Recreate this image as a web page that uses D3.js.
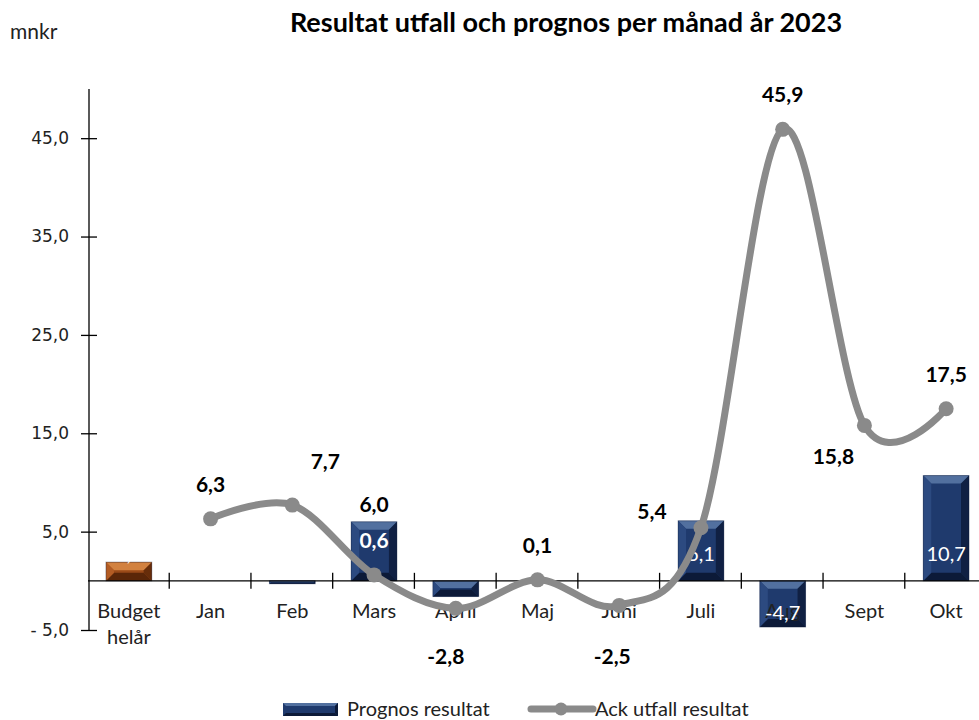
<!DOCTYPE html>
<html>
<head>
<meta charset="utf-8">
<script src="https://cdn.jsdelivr.net/npm/d3@7"></script>
<style>
  body { margin: 0; background: #fff; }
  svg { display: block; }
</style>
</head>
<body>
<div class="chart"></div>
<script>
// RESULTAT UTFALL OCH PROGNOS - bars + smoothed line
const categories = ['Budget helår', 'Jan', 'Feb', 'Mars', 'April', 'Maj', 'Juni', 'Juli', 'Aug', 'Sept', 'Okt'];
const prognos = [1.9, null, -0.3, 6.0, -1.6, null, null, 6.1, -4.7, null, 10.7];
const ackUtfall = [null, 6.3, 7.7, 0.6, -2.8, 0.1, -2.5, 5.4, 45.9, 15.8, 17.5];
const yTicks = [-5, 5, 15, 25, 35, 45];

const width = 979;
const height = 720;

const sv = d3.formatLocale({ decimal: ',', thousands: ' ', grouping: [3], currency: ['', ' kr'], minus: '-' });
const fmt = sv.format('.1f');

const svg = d3.select('.chart')
  .append('svg')
    .attr('width', width)
    .attr('height', height);

const x = d3.scaleBand()
  .domain(categories)
  .range([88, 987])
  .paddingInner(0.44)
  .paddingOuter(0.22);

const y = d3.scaleLinear()
  .domain([-5, 50])
  .range([630, 89]);

// title + unit
svg.append('text')
  .attr('x', 566).attr('y', 32)
  .attr('text-anchor', 'middle')
  .style('font', 'bold 27px Lato')
  .text('Resultat utfall och prognos per månad år 2023');

svg.append('text')
  .attr('x', 10).attr('y', 39)
  .style('font', '21px Lato')
  .style('fill', '#222')
  .text('mnkr');

// y axis
const yAxis = d3.axisLeft(y)
  .tickValues(yTicks)
  .tickSizeInner(8)
  .tickSizeOuter(0)
  .tickFormat(d => fmt(d).replace('-', '- '));

const gy = svg.append('g')
  .attr('transform', 'translate(89,0)')
  .call(yAxis);
gy.select('.domain').attr('d', `M0,${y(50)}V${y(-5)}`).attr('stroke', '#000').attr('stroke-width', 1.3);
gy.selectAll('.tick line').attr('x1', 8).attr('x2', -8).attr('stroke-width', 1.3);
gy.selectAll('.tick text')
  .attr('x', -20)
  .style('font', '17px "DejaVu Sans"')
  .style('fill', '#222');

// bevelled bars
const bevelColors = {
  navy: { main: '#1f3a6d', top: '#52709f', side: '#2c4a80', bottom: '#0c1a38' },
  brown: { main: '#9a4a18', top: '#d2813f', side: '#b35c24', bottom: '#5a2608' }
};

const barData = categories.map((c, i) => ({ cat: c, v: prognos[i], i }))
  .filter(d => d.v !== null);

const bars = svg.append('g');
barData.forEach(d => {
  const col = d.i === 0 ? bevelColors.brown : bevelColors.navy;
  const x0 = x(d.cat), w = x.bandwidth();
  const y0 = Math.min(y(d.v), y(0)), h = Math.abs(y(d.v) - y(0));
  const b = Math.min(8, h / 2.2, w / 2.2);
  const g = bars.append('g');
  g.append('rect').attr('x', x0).attr('y', y0).attr('width', w).attr('height', h).attr('fill', col.main);
  const x1 = x0 + w, y1 = y0 + h;
  g.append('polygon').attr('fill', col.top)
    .attr('points', `${x0},${y0} ${x1},${y0} ${x1 - b},${y0 + b} ${x0 + b},${y0 + b}`);
  g.append('polygon').attr('fill', col.bottom)
    .attr('points', `${x0},${y1} ${x1},${y1} ${x1 - b},${y1 - b} ${x0 + b},${y1 - b}`);
  g.append('polygon').attr('fill', col.side)
    .attr('points', `${x0},${y0} ${x0 + b},${y0 + b} ${x0 + b},${y1 - b} ${x0},${y1}`);
  g.append('polygon').attr('fill', col.bottom).attr('opacity', 0.8)
    .attr('points', `${x1},${y0} ${x1 - b},${y0 + b} ${x1 - b},${y1 - b} ${x1},${y1}`);
  g.append('rect').attr('x', x0).attr('y', y0).attr('width', w).attr('height', h)
    .attr('fill', 'none').attr('stroke', '#0a1530').attr('stroke-opacity', 0.35);
});

// x axis with ticks between categories
const step = x.step();
svg.append('line')
  .attr('x1', 88).attr('x2', width)
  .attr('y1', y(0)).attr('y2', y(0))
  .attr('stroke', '#000').attr('stroke-width', 1.3);
svg.append('g')
  .selectAll('line')
  .data(categories.slice(1))
  .join('line')
    .attr('x1', d => x(d) - step * 0.22 - 0.5)
    .attr('x2', d => x(d) - step * 0.22 - 0.5)
    .attr('y1', y(0) - 8).attr('y2', y(0) + 8)
    .attr('stroke', '#000').attr('stroke-width', 1.3);

const catLabels = svg.append('g')
  .selectAll('text')
  .data(categories)
  .join('text')
    .attr('x', d => x(d) + x.bandwidth() / 2)
    .attr('y', 618)
    .attr('text-anchor', 'middle')
    .style('font', '20px Lato')
    .style('fill', '#222');
catLabels.each(function(d) {
  const parts = d.split(' ');
  d3.select(this).selectAll('tspan')
    .data(parts)
    .join('tspan')
      .attr('x', x(d) + x.bandwidth() / 2)
      .attr('dy', (p, i) => i === 0 ? 0 : 26)
      .text(p => p);
});

// bar labels (small negative bars have their white label outside the bar, so it is not seen)
const barLabelStyle = {
  Mars: { dy: -10, color: '#000', weight: 'bold' }
};
svg.append('g')
  .selectAll('text')
  .data(barData.filter(d => d.v >= 0 || d.v < -3))
  .join('text')
    .attr('x', d => x(d.cat) + x.bandwidth() / 2)
    .attr('y', d => {
      if (barLabelStyle[d.cat]) return y(d.v) + barLabelStyle[d.cat].dy;
      return d.v >= 0 ? y(0) - 20 : y(d.v) - 7;
    })
    .attr('text-anchor', 'middle')
    .style('font-family', 'Lato')
    .style('font-size', d => barLabelStyle[d.cat] ? '21px' : '20px')
    .style('font-weight', d => barLabelStyle[d.cat] ? barLabelStyle[d.cat].weight : 'normal')
    .style('fill', d => barLabelStyle[d.cat] ? barLabelStyle[d.cat].color : '#fff')
    .text(d => fmt(d.v));

// smoothed line
const lineData = categories.map((c, i) => ({ cat: c, v: ackUtfall[i] }))
  .filter(d => d.v !== null);
const cx = d => x(d.cat) + x.bandwidth() / 2;

const line = d3.line()
  .x(cx)
  .y(d => y(d.v))
  .curve(d3.curveCardinal.tension(0));

svg.append('path')
  .datum(lineData)
  .attr('d', line)
  .attr('fill', 'none')
  .attr('stroke', '#8a8a8a')
  .attr('stroke-width', 7)
  .attr('stroke-linecap', 'round');

svg.append('g')
  .selectAll('circle')
  .data(lineData)
  .join('circle')
    .attr('cx', cx)
    .attr('cy', d => y(d.v))
    .attr('r', 7.5)
    .attr('fill', '#8a8a8a');

// line labels, manually nudged like in the original
const lineLabelOffset = {
  Feb: [33, -43], Juli: [-49, -16], Sept: [-31, 32], April: [-10, 49], Juni: [-7, 52]
};
const lineLabelColor = { Mars: '#fff' };
svg.append('g')
  .selectAll('text')
  .data(lineData)
  .join('text')
    .attr('x', d => cx(d) + (lineLabelOffset[d.cat] || [0, -34])[0])
    .attr('y', d => y(d.v) + (lineLabelOffset[d.cat] || [0, -34])[1] + 7)
    .attr('text-anchor', 'middle')
    .style('font', 'bold 21px Lato')
    .style('fill', d => lineLabelColor[d.cat] || '#000')
    .text(d => fmt(d.v));

// legend
const legend = svg.append('g');
const lx = 283, ly = 703, lw = 55, lh = 13, lb = 3;
legend.append('rect').attr('x', lx).attr('y', ly).attr('width', lw).attr('height', lh).attr('fill', bevelColors.navy.main);
legend.append('polygon').attr('fill', bevelColors.navy.top)
  .attr('points', `${lx},${ly} ${lx + lw},${ly} ${lx + lw - lb},${ly + lb} ${lx + lb},${ly + lb}`);
legend.append('polygon').attr('fill', bevelColors.navy.bottom)
  .attr('points', `${lx},${ly + lh} ${lx + lw},${ly + lh} ${lx + lw - lb},${ly + lh - lb} ${lx + lb},${ly + lh - lb}`);
legend.append('polygon').attr('fill', bevelColors.navy.bottom)
  .attr('points', `${lx + lw},${ly} ${lx + lw - lb},${ly + lb} ${lx + lw - lb},${ly + lh - lb} ${lx + lw},${ly + lh}`);
legend.append('text')
  .attr('x', 347).attr('y', 716)
  .style('font', '20px Lato').style('fill', '#222')
  .text('Prognos resultat');

legend.append('line')
  .attr('x1', 531).attr('x2', 593)
  .attr('y1', 709).attr('y2', 709)
  .attr('stroke', '#8a8a8a').attr('stroke-width', 7).attr('stroke-linecap', 'round');
legend.append('circle').attr('cx', 561).attr('cy', 709).attr('r', 6.5).attr('fill', '#8a8a8a');
legend.append('text')
  .attr('x', 595).attr('y', 716)
  .style('font', '20px Lato').style('fill', '#222')
  .text('Ack utfall resultat');
</script>
</body>
</html>
